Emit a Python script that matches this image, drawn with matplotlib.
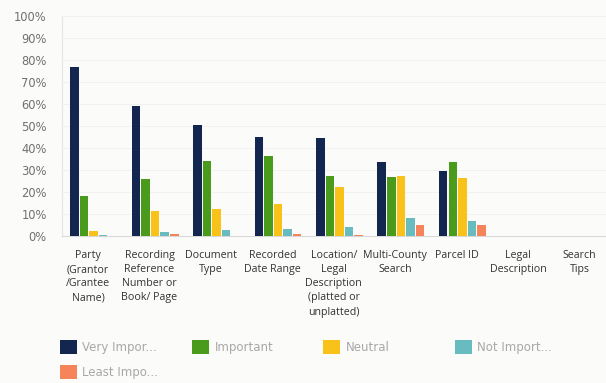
import matplotlib
matplotlib.use("Agg")
import matplotlib.pyplot as plt
import numpy as np
from matplotlib.patches import Patch

categories = ["Party\n(Grantor\n/Grantee\nName)", "Recording\nReference\nNumber or\nBook/ Page",
              "Document\nType", "Recorded\nDate Range",
              "Location/\nLegal\nDescription\n(platted or\nunplatted)",
              "Multi-County\nSearch", "Parcel ID", "Legal\nDescription", "Search\nTips"]
series_names = ["Very Impor...", "Important", "Neutral", "Not Import...", "Least Impo..."]
very_important = [77, 59, 50.5, 45, 44.5, 33.5, 29.5, 0, 0]
important = [18, 26, 34, 36.5, 27.5, 27, 33.5, 0, 0]
neutral = [2.5, 11.5, 12.5, 14.5, 22.5, 27.5, 26.5, 0, 0]
not_important = [0.6, 1.8, 2.7, 3.3, 4.3, 8, 6.7, 0, 0]
least_important = [0.2, 0.8, 0, 0.8, 0.5, 5, 5.2, 0, 0]
yticks = list(range(0, 101, 10))

colors = ["#13264f", "#4a9a1c", "#f9c21a", "#68bcc0", "#f5845a"]
values = [very_important, important, neutral, not_important, least_important]

fig = plt.figure(figsize=(6.06, 3.83), dpi=100)
fig.patch.set_facecolor("#fbfbfa")
ax = fig.add_axes([62/606, 147/383, 544/606, 220/383])
ax.set_facecolor("#fbfbfa")

x = np.arange(len(categories))
pitch = 0.156
width = 0.138
start = -0.22
for k, (vals, c) in enumerate(zip(values, colors)):
    ax.bar(x + start + k*pitch, vals, width=width, color=c, zorder=3)

ax.set_xlim(-0.423, 8.43)
ax.set_ylim(0, 100)
ax.set_yticks(yticks)
ax.set_yticklabels([f"{v}%" for v in yticks], color="#707070", fontsize=8.3)
ax.set_xticks(x)
ax.set_xticklabels(categories, fontsize=7.7, color="#333333", family="Open Sans", linespacing=1.4, va="top")
ax.tick_params(axis="both", length=0)
ax.tick_params(axis="x", pad=10)
ax.tick_params(axis="y", pad=11)
for s in ["top", "right"]:
    ax.spines[s].set_visible(False)
ax.spines["left"].set_color("#e6e6e6")
ax.spines["bottom"].set_color("#d8d8d8")
ax.yaxis.grid(True, color="#f0f0f0", linewidth=0.6, zorder=0)

# legend entries
legend_pos = [(60, 340), (192, 340), (323, 340), (455, 340), (60, 365)]
for name, c, (px, py) in zip(series_names, colors, legend_pos):
    h = Patch(facecolor=c, edgecolor=c, linewidth=0)
    fig.legend([h], [name], loc="upper left",
               bbox_to_anchor=(px/606, 1 - py/383), frameon=False,
               borderpad=0, borderaxespad=0, handlelength=1.45, handleheight=1.45,
               handletextpad=0.45, prop={"size": 8.5},
               labelcolor="#a8a8a8")

fig.savefig("out.png", dpi=100, facecolor=fig.get_facecolor())
